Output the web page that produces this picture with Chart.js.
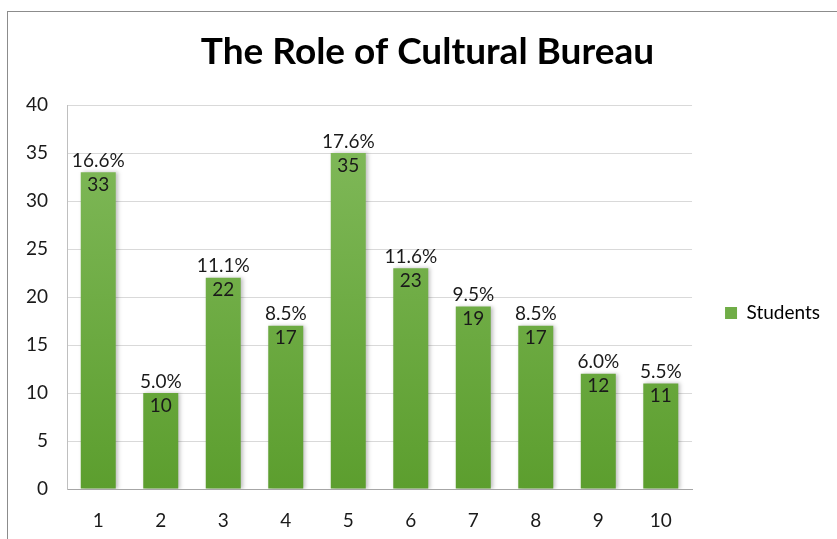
<!DOCTYPE html>
<html>
<head>
<meta charset="utf-8">
<script src="https://cdn.jsdelivr.net/npm/chart.js@4"></script>
<style>
    html, body { margin: 0; padding: 0; background: #fff; }
    #wrap { position: relative; width: 837px; height: 539px; }
    #frame {
        position: absolute; left: 7px; top: 11px; right: -2px; bottom: -2px;
        border-top: 1px solid #8c8c8c; border-left: 1px solid #8c8c8c;
        pointer-events: none;
    }
</style>
</head>
<body>
<div id="wrap">
    <canvas id="chart" width="837" height="539"></canvas>
    <div id="frame"></div>
</div>
<script>
        // Data
        const categories = ['1', '2', '3', '4', '5', '6', '7', '8', '9', '10'];
        const students = [33, 10, 22, 17, 35, 23, 19, 17, 12, 11];
        const percentLabels = ['16.6%', '5.0%', '11.1%', '8.5%', '17.6%', '11.6%', '9.5%', '8.5%', '6.0%', '5.5%'];
        const yTicks = [0, 5, 10, 15, 20, 25, 30, 35, 40];

        const FONT = 'Lato, "Open Sans", sans-serif';

        function barGradient(context) {
            const chart = context.chart;
            const area = chart.chartArea;
            if (!area) return '#6aaa3e';
            const g = chart.ctx.createLinearGradient(0, area.top, 0, area.bottom);
            g.addColorStop(0, '#83bb5d');
            g.addColorStop(1, '#5c9e2e');
            return g;
        }

        // value inside the top of each bar, share above it
        const barLabels = {
            id: 'barLabels',
            afterDatasetsDraw(chart) {
                const ctx = chart.ctx;
                const meta = chart.getDatasetMeta(0);
                ctx.save();
                ctx.font = '19px ' + FONT;
                ctx.fillStyle = '#1a1a1a';
                ctx.textAlign = 'center';
                meta.data.forEach((bar, i) => {
                    ctx.textBaseline = 'bottom';
                    ctx.fillText(percentLabels[i], bar.x, bar.y - 2);
                    ctx.textBaseline = 'top';
                    ctx.fillText(String(students[i]), bar.x, bar.y + 3);
                });
                ctx.restore();
            }
        };

        // soft shadow behind the bars
        const barShadow = {
            id: 'barShadow',
            beforeDatasetsDraw(chart) {
                const ctx = chart.ctx;
                ctx.save();
                ctx.shadowColor = 'rgba(0,0,0,0.25)';
                ctx.shadowBlur = 4;
                ctx.shadowOffsetX = 2;
                ctx.shadowOffsetY = 0;
            },
            afterDatasetsDraw(chart) {
                chart.ctx.restore();
            }
        };

        // nudge legend and title to sit where the original has them
        const boxShift = {
            id: 'boxShift',
            afterLayout(chart) {
                if (chart.legend) {
                    chart.legend.top += 16;
                    chart.legend.bottom += 16;
                    chart.legend.left -= 7;
                    chart.legend.right -= 7;
                }
                if (chart.titleBlock) {
                    chart.titleBlock.left += 18;
                }
            }
        };

        const ctx = document.getElementById('chart').getContext('2d');
        new Chart(ctx, {
            type: 'bar',
            data: {
                labels: categories,
                datasets: [{
                    label: 'Students',
                    data: students,
                    backgroundColor: barGradient,
                    borderWidth: 0,
                    categoryPercentage: 1,
                    barPercentage: 0.56
                }]
            },
            options: {
                responsive: false,
                animation: false,
                layout: { padding: { top: 0, right: 0, bottom: 0, left: 0 } },
                plugins: {
                    title: {
                        display: true,
                        text: 'The Role of Cultural Bureau',
                        color: '#000',
                        font: { family: FONT, size: 37, weight: 'bold', lineHeight: 1.2 },
                        padding: { top: 30, bottom: 30.6 }
                    },
                    legend: {
                        position: 'right',
                        fullSize: false,
                        labels: {
                            color: '#1a1a1a',
                            font: { family: FONT, size: 19 },
                            boxWidth: 12,
                            boxHeight: 12,
                            padding: 40,
                            generateLabels(chart) {
                                return [{
                                    text: 'Students',
                                    fillStyle: '#70ad47',
                                    strokeStyle: '#70ad47',
                                    lineWidth: 0,
                                    datasetIndex: 0
                                }];
                            }
                        }
                    },
                    tooltip: { enabled: false }
                },
                scales: {
                    x: {
                        grid: { display: false, drawTicks: false },
                        border: { display: true, color: '#a6a6a6', width: 1 },
                        ticks: { color: '#1a1a1a', font: { family: FONT, size: 19 }, padding: 20 },
                        afterFit(scale) { scale.height = 50; }
                    },
                    y: {
                        min: 0,
                        max: 40,
                        afterBuildTicks(scale) {
                            scale.ticks = yTicks.map(v => ({ value: v }));
                        },
                        grid: { color: '#d9d9d9', lineWidth: 1, drawTicks: false },
                        border: { display: true, color: '#bfbfbf', width: 1 },
                        ticks: { color: '#1a1a1a', font: { family: FONT, size: 19 }, padding: 19 },
                        afterFit(scale) { scale.width = 67; }
                    }
                }
            },
            plugins: [barShadow, barLabels, boxShift]
        });
</script>
</body>
</html>
